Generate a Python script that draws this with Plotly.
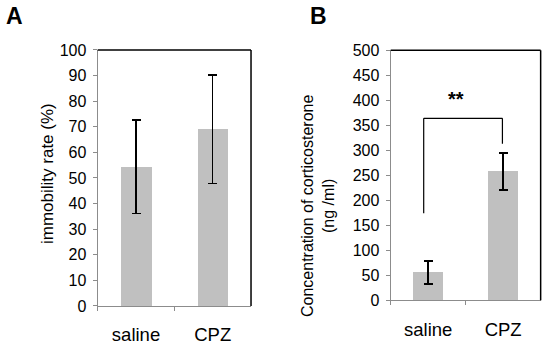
import plotly.graph_objects as go

# ---- data ----
categories = ["saline", "CPZ"]
immobility = [54.4, 69.0]
immobility_err = [18.3, 21.2]
cort = [56.0, 258.0]
cort_err = [23.0, 37.0]
yticks_a = list(range(0, 101, 10))
yticks_b = list(range(0, 501, 50))
# significance bracket (category-index x, value y)
bracket_x = [-0.06, 0.99]
bracket_y_left = 174
bracket_y_top = 364
bracket_y_right = 313
sig_label = "**"
sig_y = 402

FONT = "Liberation Sans, Arial, Helvetica, sans-serif"
BAR = "#c0c0c0"
AX = "#8c8c8c"

W, H = 550, 352
dom_xa = [0.1776, 0.4564]
dom_ya = [0.1307, 0.858]
dom_xb = [0.7104, 0.983]
dom_yb = [0.1469, 0.8571]

fig = go.Figure()
fig.add_trace(go.Bar(
    x=categories, y=immobility, width=0.4, marker=dict(color=BAR, line=dict(width=0)),
    error_y=dict(type="data", array=immobility_err, color="black", thickness=1.5, width=4.5),
    xaxis="x", yaxis="y", showlegend=False))
fig.add_trace(go.Bar(
    x=categories, y=cort, width=0.4, marker=dict(color=BAR, line=dict(width=0)),
    error_y=dict(type="data", array=cort_err, color="black", thickness=1.5, width=4.5),
    xaxis="x2", yaxis="y2", showlegend=False))

xcommon = dict(type="category", showline=True, linecolor=AX, linewidth=1.2, ticks="outside",
               tickson="boundaries", ticklen=4, tickcolor=AX, showgrid=False, zeroline=False,
               tickfont=dict(family=FONT, size=18.5, color="black"), range=[-0.5, 1.5],
               fixedrange=True, automargin=False)
ycommon = dict(showline=True, linecolor=AX, linewidth=1.2, ticks="outside", ticklen=4,
               tickcolor=AX, showgrid=False, zeroline=False, automargin=False, fixedrange=True,
               tickfont=dict(family=FONT, size=16, color="black"), ticklabelstandoff=3)

fig.update_layout(
    width=W, height=H, autosize=False, margin=dict(l=0, r=0, t=0, b=0, pad=0),
    paper_bgcolor="white", plot_bgcolor="white", bargap=0,
    xaxis=dict(domain=dom_xa, anchor="y", ticklabelstandoff=12, **xcommon),
    yaxis=dict(domain=dom_ya, anchor="x", range=[0, 100], tickvals=yticks_a, **ycommon),
    xaxis2=dict(domain=dom_xb, anchor="y2", ticklabelstandoff=12, **xcommon),
    yaxis2=dict(domain=dom_yb, anchor="x2", range=[0, 500], tickvals=yticks_b, **ycommon),
)

shapes = []
for dx, dy in ((dom_xa, dom_ya), (dom_xb, dom_yb)):
    shapes.append(dict(type="line", xref="paper", yref="paper",
                       x0=dx[0], x1=dx[1], y0=dy[1], y1=dy[1], line=dict(color="black", width=1.5)))
    shapes.append(dict(type="line", xref="paper", yref="paper",
                       x0=dx[1], x1=dx[1], y0=dy[0], y1=dy[1], line=dict(color="black", width=1.5)))
# bracket
shapes.append(dict(type="line", xref="x2", yref="y2", x0=bracket_x[0], x1=bracket_x[0],
                   y0=bracket_y_left, y1=bracket_y_top, line=dict(color="black", width=1.2)))
shapes.append(dict(type="line", xref="x2", yref="y2", x0=bracket_x[0], x1=bracket_x[1],
                   y0=bracket_y_top, y1=bracket_y_top, line=dict(color="black", width=1.2)))
shapes.append(dict(type="line", xref="x2", yref="y2", x0=bracket_x[1], x1=bracket_x[1],
                   y0=bracket_y_top, y1=bracket_y_right, line=dict(color="black", width=1.2)))
fig.update_layout(shapes=shapes)

c = dict(xanchor="center", yanchor="middle", showarrow=False, xref="paper", yref="paper")
ann = [
    dict(text="<b>A</b>", x=14 / W, y=1 - 16 / H, font=dict(family=FONT, size=23, color="black"), **c),
    dict(text="<b>B</b>", x=318 / W, y=1 - 16 / H, font=dict(family=FONT, size=23, color="black"), **c),
    dict(text="immobility rate (%)", x=47 / W, y=1 - 174 / H, textangle=-90,
         font=dict(family=FONT, size=17, color="black"), **c),
    dict(text="Concentration of corticosterone<br>(ng /ml)", x=318 / W, y=1 - 206 / H,
         textangle=-90, font=dict(family=FONT, size=16, color="black"), **c),
    dict(text="<b>" + sig_label + "</b>", x=(bracket_x[0] + bracket_x[1]) / 2 - 0.1, y=sig_y,
         xref="x2", yref="y2", xanchor="center", yanchor="middle", showarrow=False,
         font=dict(family=FONT, size=20, color="black")),
]
fig.update_layout(annotations=ann)

fig.write_html("out.html", config={"displayModeBar": False},
               post_script="document.body.style.margin='0';document.body.style.overflow='hidden';")
